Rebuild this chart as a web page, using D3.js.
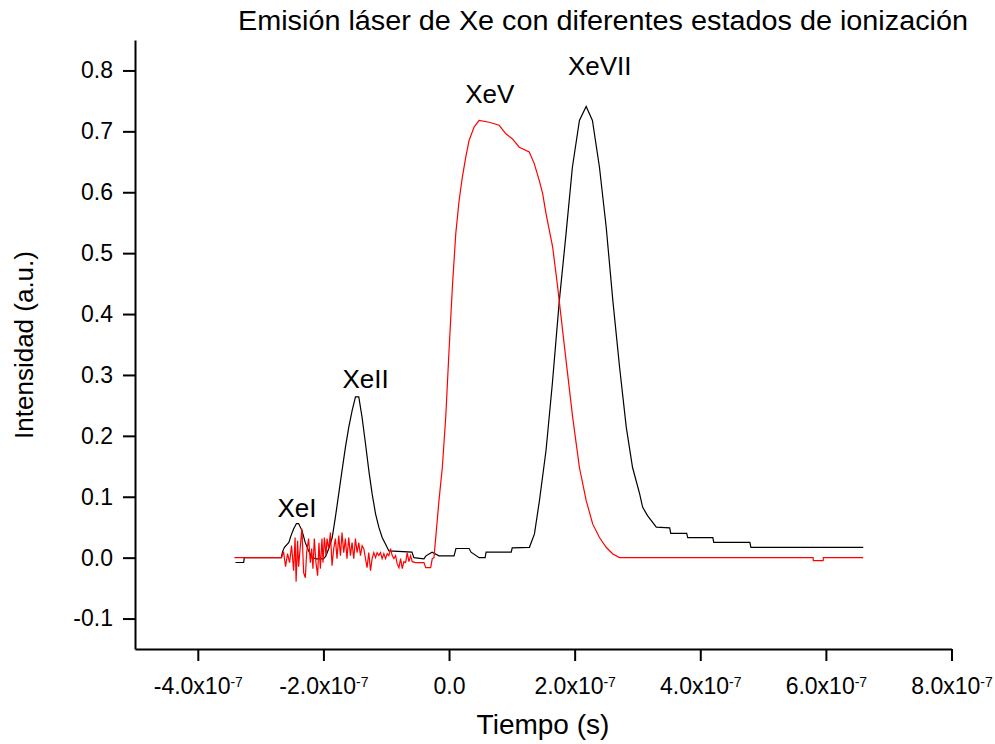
<!DOCTYPE html>
<html>
<head>
<meta charset="utf-8">
<script src="https://cdn.jsdelivr.net/npm/d3@7"></script>
<style>
  body { margin: 0; background: #fff; }
  svg { display: block; }
  text { font-family: "Liberation Sans", Arial, sans-serif; fill: #000; }
</style>
</head>
<body>
<svg id="chart" width="995" height="744"></svg>
<script>
// ---- texts ----
const chartTitle = "Emisión láser de Xe con diferentes estados de ionización";
const xTitle = "Tiempo (s)";
const yTitle = "Intensidad (a.u.)";

// ---- axis ticks (time in nanoseconds) ----
const xTicks = [-400, -200, 0, 200, 400, 600, 800];
const xMinorTicks = [-500, -300, -100, 100, 300, 500, 700];
const yTicks = [-0.1, 0.0, 0.1, 0.2, 0.3, 0.4, 0.5, 0.6, 0.7, 0.8];
const yMinorTicks = [-0.15, -0.05, 0.05, 0.15, 0.25, 0.35, 0.45, 0.55, 0.65, 0.75, 0.85];

// ---- black trace: XeI, XeII and XeVII pulses (time ns, intensity) ----
const blackTime = [
  -340, -327, -326, -267, -265, -262, -255, -252, -247.5, -243, -239.5, -234, -229,
  -223.5, -218, -211, -200, -196, -191.5, -186, -181, -175.6, -170.4, -165, -159.7,
  -154.4, -149, -143.7, -138.4, -133, -127.7, -122.5, -117, -111.8, -106.5, -101,
  -95.8, -59, -56, -40, -36.7, -27, -16, 8, 11, 32, 35, 48, 57.5, 59, 99, 100.6, 128,
  136, 144, 154.4, 164.5, 175.6, 186.3, 196.4, 207.6, 218.3, 228.3, 239.5, 250.2,
  260.8, 271.5, 282.2, 292.2, 303.4, 308.2, 316, 330, 351.3, 353, 378.4, 380, 420,
  421.5, 479, 480.6, 659.5
];
const blackValue = [
  -0.008, -0.008, 0.0, 0.0, 0.01, 0.017, 0.025, 0.035, 0.047, 0.056, 0.056, 0.044, 0.025,
  0.011, 0.0, -0.002, -0.002, 0.003, 0.015, 0.033, 0.066, 0.105, 0.143, 0.181, 0.214,
  0.241, 0.264, 0.264, 0.23, 0.187, 0.143, 0.105, 0.072, 0.05, 0.033, 0.022,
  0.011, 0.009, 0.0, -0.002, 0.003, 0.009, 0.003, 0.003, 0.015, 0.015, 0.009, 0.0, 0.0, 0.009, 0.009, 0.016, 0.017,
  0.039, 0.094, 0.176, 0.286, 0.422, 0.532, 0.641, 0.718, 0.741, 0.718, 0.641, 0.543,
  0.422, 0.313, 0.214, 0.148, 0.105, 0.083, 0.069, 0.05, 0.049, 0.04, 0.04, 0.033, 0.033,
  0.025, 0.025, 0.017, 0.017
];

// ---- red trace: XeV pulse (time ns, intensity) ----
const redTime = [
  -341.7, -266.7, -263.5, -260.3, -257.1, -253.9, -250.7, -247.5, -245.1, -243.5, -241.1,
  -239.5, -237.1, -234.3, -231.5, -228.8, -226.7, -223.6, -220.8, -218.7, -216.7, -214.5,
  -211.9, -209.2, -207.1, -204.9, -202.3, -200.7, -198.5, -195.9, -194.3, -191.6, -188.9,
  -186.3, -183.6, -180.9, -178.4, -175.6, -172.9, -170.4, -167.7, -165.0, -162.5, -159.7,
  -157.0, -154.4, -151.7, -149.0, -146.4, -143.7, -141.0, -138.4, -135.7, -133.0, -130.5,
  -127.8, -125.0, -122.5, -119.8, -117.0, -114.5, -111.8, -109.1, -106.5, -103.8, -101.1,
  -98.5, -95.8, -93.1, -90.5, -87.8, -85.1, -82.6, -79.8, -77.1, -74.5, -71.9, -69.1,
  -66.6, -63.9, -61.2, -58.6, -53.2, -39.9, -37.2, -29.2, -26.7, -24.0,
  -16, -10.7, -5.3, 0, 5.3, 10.7, 16, 21.2, 26.7, 31.9, 39.9, 47.9, 63.9, 79.8, 90.5,
  100.6, 111.8, 127.7, 135.7, 143.7, 149, 154.4, 165, 173, 178.4, 186.3, 196.9, 207.6,
  218.3, 228.8, 239.5, 250.2, 260.8, 271.5, 579.6, 580, 595.6, 596, 659.5
];
const redValue = [
  0.0, 0.0, 0.0099, -0.0148, 0.0066, -0.0082, 0.0197, -0.0214, 0.0329, -0.0394, 0.0279,
  -0.0148, 0.0148, 0.0476, -0.0246, -0.0329, 0.0082, 0.0312, -0.0082, 0.0148, -0.0181, 0.0312,
  -0.0082, -0.0296, 0.0246, -0.0181, 0.0312, -0.0082, 0.0329, 0.0033, 0.0312, 0.0148, 0.0411,
  -0.0131, 0.0148, 0.0312, -0.0016, 0.0361, 0.0033, 0.0411, 0.0082, 0.0312, -0.0016, 0.0329,
  0.0033, 0.0246, -0.0016, 0.0312, 0.0082, 0.0246, 0.0033, 0.0197, 0.0148, -0.0016, -0.0164,
  0.0082, -0.0214, -0.0016, 0.0082, 0.0, 0.0082, 0.0033, 0.0082, -0.0016, 0.0066, -0.0016,
  0.0066, 0.0033, 0.0148, 0.0033, -0.0016, 0.0033, -0.0099, -0.0164, -0.0016, -0.0181, -0.0066, -0.0082,
  0.0082, -0.0066, 0.0033, -0.0066, -0.0082, -0.0082, -0.0164, -0.0164, -0.0016, 0.0,
  0.094, 0.148, 0.23, 0.34, 0.444, 0.532, 0.586, 0.625, 0.658, 0.685, 0.707, 0.718, 0.715, 0.71, 0.696,
  0.688, 0.674, 0.666, 0.647, 0.619, 0.598, 0.565, 0.51, 0.444, 0.395, 0.324, 0.23, 0.148,
  0.094, 0.055, 0.033, 0.017, 0.006, 0.0, 0.0, -0.005, -0.005, 0.0, 0.0
];

// ---- peak annotations (anchor in data coordinates) ----
const peakNames = ["XeI", "XeII", "XeV", "XeVII"];
const peakTime = [-242, -133, 65, 240];
const peakValue = [0.066, 0.279, 0.746, 0.792];

// ---- layout ----
const svg = d3.select("#chart");
const x = d3.scaleLinear().domain([-500, 800]).range([135, 951.5]);
const y = d3.scaleLinear().domain([-0.15, 0.85]).range([649, 40]);

// plotted traces
const line = d3.line().x(d => x(d[0])).y(d => y(d[1]));
const blackPts = d3.zip(blackTime, blackValue);
const redPts = d3.zip(redTime, redValue);

svg.append("path").datum(blackPts)
  .attr("d", line).attr("fill", "none").attr("stroke", "#000").attr("stroke-width", 1.2);
svg.append("path").datum(redPts)
  .attr("d", line).attr("fill", "none").attr("stroke", "#ff0000").attr("stroke-width", 1.2);

// x axis: labels as "m.mx10" with a superscript exponent
const fmtX = v => v === 0 ? "0.0" : (v / 100).toFixed(1) + "x10";
const gx = svg.append("g").attr("transform", `translate(0,${y(-0.15)})`);
gx.call(d3.axisBottom(x).tickValues(xMinorTicks).tickSize(7).tickSizeOuter(0).tickFormat(""));
gx.call(d3.axisBottom(x).tickValues(xTicks).tickSize(12).tickSizeOuter(0).tickPadding(17).tickFormat(fmtX));
gx.selectAll("text").attr("font-size", 23).attr("font-family", null)
  .each(function (d) {
    if (d !== 0) {
      d3.select(this).append("tspan").attr("dy", "-0.55em").attr("font-size", 14).text("-7");
    }
  });

// y axis (plain hyphen for negatives)
const fmtY = v => d3.format(".1f")(v).replace("\u2212", "-");
const gy = svg.append("g").attr("transform", `translate(${x(-500)},0)`);
gy.call(d3.axisLeft(y).tickValues(yMinorTicks).tickSize(7).tickSizeOuter(0).tickFormat(""));
gy.call(d3.axisLeft(y).tickValues(yTicks).tickSize(12).tickSizeOuter(0).tickPadding(10)
  .tickFormat(fmtY));
gy.selectAll("text").attr("font-size", 23).attr("font-family", null);

svg.selectAll(".domain, .tick line").attr("stroke", "#000").attr("stroke-width", 2);

// annotations
svg.selectAll("text.peak").data(peakNames).join("text")
  .attr("class", "peak")
  .attr("x", (d, i) => x(peakTime[i]))
  .attr("y", (d, i) => y(peakValue[i]))
  .attr("text-anchor", "middle")
  .attr("font-size", 26)
  .text(d => d);

// titles
svg.append("text").attr("x", 603).attr("y", 30).attr("text-anchor", "middle")
  .attr("font-size", 27).attr("textLength", 730).attr("lengthAdjust", "spacingAndGlyphs")
  .text(chartTitle);
svg.append("text").attr("x", 543).attr("y", 734).attr("text-anchor", "middle")
  .attr("font-size", 28).text(xTitle);
svg.append("text").attr("transform", "translate(33,345) rotate(-90)")
  .attr("text-anchor", "middle").attr("font-size", 26).text(yTitle);
</script>
</body>
</html>
